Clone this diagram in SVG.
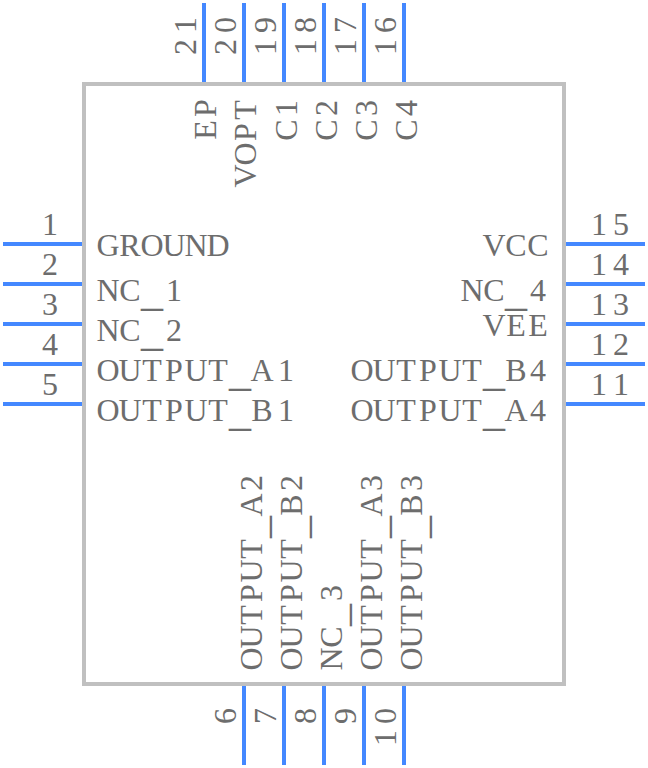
<svg xmlns="http://www.w3.org/2000/svg" width="648" height="768" viewBox="0 0 648 768">
<style>
text{font-family:"Liberation Serif",serif;font-size:32px;fill:#6d6d6d}
.u{font-size:44px;font-family:"Liberation Serif",serif}
.pin{stroke:#4488ff;stroke-width:4;fill:none}
</style>
<rect width="648" height="768" fill="#fff"/>
<g id="body"><rect x="84" y="84" width="480" height="600" fill="#fff" stroke="#c0c0c0" stroke-width="4"/></g>
<g id="connectors">
<path class="pin" d="M3 244H82M3 284H82M3 324H82M3 364H82M3 404H82"/>
<path class="pin" d="M566 244H645M566 284H645M566 324H645M566 364H645M566 404H645"/>
<path class="pin" d="M204 3V82M244 3V82M284 3V82M324 3V82M364 3V82M404 3V82"/>
<path class="pin" d="M244 686V765M284 686V765M324 686V765M364 686V765M404 686V765"/>
</g>
<g id="pin-numbers">
<text transform="translate(39 235)" x="3">1</text><text transform="translate(39 275)" x="3">2</text><text transform="translate(39 315)" x="3">3</text><text transform="translate(39 355)" x="3">4</text><text transform="translate(39 395)" x="3">5</text>
<text transform="translate(588 235)" x="3 25">15</text><text transform="translate(588 275)" x="3 25">14</text><text transform="translate(588 315)" x="3 25">13</text><text transform="translate(588 355)" x="3 25">12</text><text transform="translate(588 395)" x="3 25">11</text>
<text transform="translate(196 58) rotate(-90)" x="3 25">21</text><text transform="translate(236 58) rotate(-90)" x="3 25">20</text><text transform="translate(276 58) rotate(-90)" x="3 25">19</text><text transform="translate(316 58) rotate(-90)" x="3 25">18</text><text transform="translate(356 58) rotate(-90)" x="3 25">17</text><text transform="translate(396 58) rotate(-90)" x="3 25">16</text>
<text transform="translate(236 727) rotate(-90)" x="3">6</text><text transform="translate(276 727) rotate(-90)" x="3">7</text><text transform="translate(316 727) rotate(-90)" x="3">8</text><text transform="translate(356 727) rotate(-90)" x="3">9</text><text transform="translate(396 749) rotate(-90)" x="3 25">10</text>
</g>
<g id="pin-names">
<text transform="translate(97 256)" x="-.55 22.35 43.45 65.45 87.45 109.45">GROUND</text>
<text transform="translate(97 301)" x="-.55 22.35 44 69">NC<tspan class="u" dy="4">_</tspan><tspan dy="-4">1</tspan></text>
<text transform="translate(97 341)" x="-.55 22.35 44 69">NC<tspan class="u" dy="4">_</tspan><tspan dy="-4">2</tspan></text>
<text transform="translate(97 381)" x="-.55 21.45 45.2 68.1 87.45 111.2 132 153.45 181">OUTPUT<tspan class="u" dy="4">_</tspan><tspan dy="-4">A1</tspan></text>
<text transform="translate(97 421)" x="-.55 21.45 45.2 68.1 87.45 111.2 132 154.35 181">OUTPUT<tspan class="u" dy="4">_</tspan><tspan dy="-4">B1</tspan></text>
<text transform="translate(483 256)" x="-.55 22.35 44.35">VCC</text>
<text transform="translate(461 301)" x="-.55 22.35 44 69">NC<tspan class="u" dy="4">_</tspan><tspan dy="-4">4</tspan></text>
<text transform="translate(483 336)" x="-.55 23.2 45.2">VEE</text>
<text transform="translate(351 381)" x="-.55 21.45 45.2 68.1 87.45 111.2 132 154.35 179">OUTPUT<tspan class="u" dy="4">_</tspan><tspan dy="-4">B4</tspan></text>
<text transform="translate(351 421)" x="-.55 21.45 45.2 68.1 87.45 111.2 132 153.45 179">OUTPUT<tspan class="u" dy="4">_</tspan><tspan dy="-4">A4</tspan></text>
<text transform="translate(216 141) rotate(-90)" x="1.2 24.1">EP</text>
<text transform="translate(256 187) rotate(-90)" x="-.55 21.45 46.1 67.2">VOPT</text>
<text transform="translate(297 141) rotate(-90)" x=".35 25">C1</text><text transform="translate(337 141) rotate(-90)" x=".35 25">C2</text><text transform="translate(377 141) rotate(-90)" x=".35 25">C3</text><text transform="translate(417 141) rotate(-90)" x=".35 25">C4</text>
<text transform="translate(262 670) rotate(-90)" x="-.55 21.45 45.2 68.1 87.45 111.2 132 153.45 179">OUTPUT<tspan class="u" dy="4">_</tspan><tspan dy="-4">A2</tspan></text>
<text transform="translate(302 670) rotate(-90)" x="-.55 21.45 45.2 68.1 87.45 111.2 132 154.35 179">OUTPUT<tspan class="u" dy="4">_</tspan><tspan dy="-4">B2</tspan></text>
<text transform="translate(342 670) rotate(-90)" x="-.55 22.35 44 69">NC<tspan class="u" dy="4">_</tspan><tspan dy="-4">3</tspan></text>
<text transform="translate(382 670) rotate(-90)" x="-.55 21.45 45.2 68.1 87.45 111.2 132 153.45 179">OUTPUT<tspan class="u" dy="4">_</tspan><tspan dy="-4">A3</tspan></text>
<text transform="translate(422 670) rotate(-90)" x="-.55 21.45 45.2 68.1 87.45 111.2 132 154.35 179">OUTPUT<tspan class="u" dy="4">_</tspan><tspan dy="-4">B3</tspan></text>
</g>
</svg>
